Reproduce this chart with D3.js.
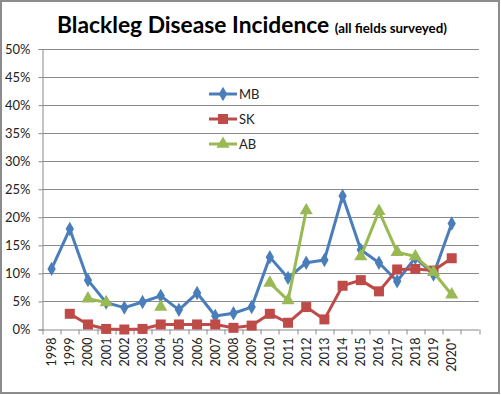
<!DOCTYPE html>
<html>
<head>
<meta charset="utf-8">
<script src="https://cdn.jsdelivr.net/npm/d3@7"></script>
<style>
  body { margin: 0; background: #fff; }
  svg { display: block; font-family: Lato, "Open Sans", sans-serif; }
</style>
</head>
<body>
<svg width="501" height="395"></svg>
<script>
// Data (percent), null = not surveyed
let years = ["1998", "1999", "2000", "2001", "2002", "2003", "2004", "2005", "2006", "2007",
  "2008", "2009", "2010", "2011", "2012", "2013", "2014", "2015", "2016", "2017",
  "2018", "2019", "2020*", ""];
let mbValues = [10.8, 17.9, 8.8, 4.8, 3.9, 4.9, 6.0, 3.5, 6.5, 2.4,
  2.9, 4.0, 12.9, 9.2, 11.9, 12.4, 23.8, 14.2, 11.9, 8.6,
  12.8, 9.8, 18.9, null];
let skValues = [null, 2.8, 0.9, 0.1, 0.0, 0.1, 0.9, 0.9, 0.9, 0.9,
  0.3, 0.7, 2.8, 1.2, 4.0, 1.8, 7.8, 8.8, 6.8, 10.7,
  10.8, 10.5, 12.7, null];
let abValues = [null, null, 5.5, 4.8, null, null, 4.0, null, null, null,
  null, null, 8.3, 5.2, 21.2, null, null, 13.0, 21.1, 13.8,
  13.0, 10.2, 6.2, null];
let yTicks = [0, 5, 10, 15, 20, 25, 30, 35, 40, 45, 50];

let svg = d3.select("svg");
let width = +svg.attr("width");
let height = +svg.attr("height");

let margin = { top: 49, right: 22, bottom: 65.5, left: 42.5 };
let plotW = width - margin.left - margin.right;
let plotH = height - margin.top - margin.bottom;

// outer frame
svg.append("rect")
  .attr("x", 1).attr("y", 1)
  .attr("width", width - 3).attr("height", height - 3)
  .attr("fill", "#fff")
  .attr("stroke", "#8c8c8c")
  .attr("stroke-width", 2);

// title
let title = svg.append("text")
  .attr("x", 57)
  .attr("y", 33)
  .attr("font-weight", "bold")
  .attr("fill", "#000");
title.append("tspan").attr("font-size", "22.8px").text("Blackleg Disease Incidence ");
title.append("tspan").attr("font-size", "13.3px").text("(all fields surveyed)");

let g = svg.append("g")
  .attr("transform", "translate(" + margin.left + "," + margin.top + ")");

let x = d3.scaleBand().domain(years.map((d, i) => i)).range([0, plotW]);
let y = d3.scaleLinear().domain([0, 50]).range([plotH, 0]);

// gridlines
g.append("g")
  .selectAll("line")
  .data(yTicks.filter(d => d > 0))
  .enter()
  .append("line")
  .attr("x1", 0).attr("x2", plotW)
  .attr("y1", d => Math.round(y(d)) + 0.5)
  .attr("y2", d => Math.round(y(d)) + 0.5)
  .attr("stroke", "#8a8a8a")
  .attr("stroke-width", 1);

// y axis
let yAxis = g.append("g")
  .call(d3.axisLeft(y).tickValues(yTicks).tickSize(4).tickFormat(d => d + "%"));
yAxis.select(".domain").attr("stroke", "#8a8a8a");
yAxis.selectAll(".tick line").attr("stroke", "#8a8a8a");
yAxis.selectAll("text")
  .attr("font-size", "13px")
  .attr("fill", "#222")
  .attr("font-family", "Lato, sans-serif")
  .attr("x", -12);

// x axis with ticks at category boundaries
let xAxis = g.append("g").attr("transform", "translate(0," + plotH + ")");
xAxis.append("line")
  .attr("x1", 0).attr("x2", plotW)
  .attr("y1", 0.5).attr("y2", 0.5)
  .attr("stroke", "#8a8a8a");
xAxis.selectAll(".xtick")
  .data(d3.range(years.length + 1))
  .enter()
  .append("line")
  .attr("class", "xtick")
  .attr("x1", d => Math.round(d * x.step()) + 0.5)
  .attr("x2", d => Math.round(d * x.step()) + 0.5)
  .attr("y1", 0).attr("y2", 5)
  .attr("stroke", "#8a8a8a");
xAxis.selectAll(".xlab")
  .data(years)
  .enter()
  .append("text")
  .attr("class", "xlab")
  .attr("transform", (d, i) => "translate(" + (x(i) + x.bandwidth() / 2 + 4.5) + ",8) rotate(-90)")
  .attr("text-anchor", "end")
  .attr("font-size", "12.5px")
  .attr("fill", "#222")
  .text(d => d);

// series
let series = [
  { name: "MB", values: mbValues, color: "#4a7ebb", marker: "diamond" },
  { name: "SK", values: skValues, color: "#be4b48", marker: "square" },
  { name: "AB", values: abValues, color: "#98b954", marker: "triangle" }
];

let line = d3.line()
  .defined(d => d != null)
  .x((d, i) => x(i) + x.bandwidth() / 2)
  .y(d => y(d));

function markerPath(type) {
  if (type === "diamond") return d3.symbol(d3.symbolDiamond, 60)();
  if (type === "square") return d3.symbol(d3.symbolSquare, 100)();
  return d3.symbol(d3.symbolTriangle, 75)();
}

series.forEach(function(s) {
  let sg = g.append("g");
  sg.append("path")
    .attr("d", line(s.values))
    .attr("fill", "none")
    .attr("stroke", s.color)
    .attr("stroke-width", 3)
    .attr("stroke-linejoin", "round");
  sg.selectAll("path.mk")
    .data(s.values.map((v, i) => ({ v: v, i: i })).filter(d => d.v != null))
    .enter()
    .append("path")
    .attr("class", "mk")
    .attr("d", markerPath(s.marker))
    .attr("transform", d => "translate(" + (x(d.i) + x.bandwidth() / 2) + "," + y(d.v) + ")")
    .attr("fill", s.color);
});

// legend
let legend = svg.append("g");
series.forEach(function(s, i) {
  let ly = 94 + i * 25;
  legend.append("line")
    .attr("x1", 209).attr("x2", 237)
    .attr("y1", ly).attr("y2", ly)
    .attr("stroke", s.color)
    .attr("stroke-width", 3);
  legend.append("path")
    .attr("d", markerPath(s.marker))
    .attr("transform", "translate(223," + ly + ")")
    .attr("fill", s.color);
  legend.append("text")
    .attr("x", 239)
    .attr("y", ly + 5)
    .attr("font-size", "13px")
    .attr("fill", "#222")
    .text(s.name);
});
</script>
</body>
</html>
